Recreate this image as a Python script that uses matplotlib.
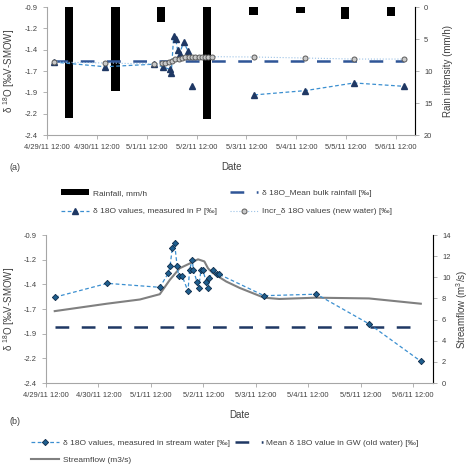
import numpy as np
import pandas as pd
import matplotlib
matplotlib.use("Agg")
import matplotlib.pyplot as plt

plt.rcParams['font.family'] = ['Liberation Sans', 'DejaVu Sans']
plt.rcParams['mathtext.fontset'] = 'custom'
plt.rcParams['mathtext.rm'] = 'Liberation Sans'
plt.rcParams['mathtext.it'] = 'Liberation Sans:italic'

# ---- panel (a): rainfall ----
rain_time = ['2011-04-29 22:30', '2011-04-30 21:00', '2011-05-01 19:00', '2011-05-02 17:00',
             '2011-05-03 15:20', '2011-05-04 14:00', '2011-05-05 11:30', '2011-05-06 09:30']
rain_mm = [17.4, 13.2, 2.3, 17.5, 1.25, 0.9, 1.8, 1.4]

p_time = ['2011-04-29 15:20', '2011-04-30 15:50', '2011-05-01 15:40', '2011-05-01 19:40',
          '2011-05-01 23:00', '2011-05-01 23:50', '2011-05-02 01:00', '2011-05-02 02:00',
          '2011-05-02 02:50', '2011-05-02 03:50', '2011-05-02 05:45', '2011-05-02 08:00',
          '2011-05-02 09:00', '2011-05-02 09:50', '2011-05-03 10:00',
          '2011-05-03 15:50', '2011-05-04 16:20', '2011-05-05 15:50', '2011-05-06 16:05']
p_d18o = [-1.545, -1.60, -1.57, -1.60, -1.63, -1.67, -1.24, -1.28, -1.40, -1.45, -1.31, -1.42,
          None, -1.83, None, -1.93, -1.88, -1.79, -1.83]

incr_time = ['2011-04-29 15:20', '2011-04-30 15:50', '2011-05-01 15:40',
             '2011-05-01 19:10', '2011-05-01 20:50', '2011-05-01 22:30', '2011-05-02 00:00',
             '2011-05-02 01:40', '2011-05-02 03:20', '2011-05-02 04:50', '2011-05-02 06:30',
             '2011-05-02 08:10', '2011-05-02 09:50', '2011-05-02 11:15', '2011-05-02 13:00',
             '2011-05-02 14:40', '2011-05-02 16:05', '2011-05-02 17:45', '2011-05-02 19:25',
             '2011-05-03 15:50', '2011-05-04 16:20', '2011-05-05 15:50', '2011-05-06 16:05']
incr_d18o = [-1.545, -1.556, -1.568,
             -1.56, -1.553, -1.545, -1.53, -1.513, -1.506, -1.494, -1.486,
             -1.482, -1.482, -1.482, -1.482, -1.482, -1.482, -1.482, -1.482,
             -1.486, -1.498, -1.51, -1.51]

mean_rain_time = ['2011-04-29 15:20', '2011-05-06 16:05']
mean_rain_d18o = [-1.53, -1.53]

# ---- panel (b): stream ----
stream_time = ['2011-04-29 16:05', '2011-04-30 16:05', '2011-05-01 16:05', '2011-05-01 19:55',
               '2011-05-01 20:50', '2011-05-01 21:50', '2011-05-01 22:50', '2011-05-02 00:00',
               '2011-05-02 00:45', '2011-05-02 02:25', '2011-05-02 05:00', '2011-05-02 05:45',
               '2011-05-02 07:00', '2011-05-02 07:25', '2011-05-02 09:10', '2011-05-02 09:50',
               '2011-05-02 11:00', '2011-05-02 11:45', '2011-05-02 13:25', '2011-05-02 14:10',
               '2011-05-02 14:50', '2011-05-02 16:20', '2011-05-02 18:15', '2011-05-02 19:25',
               '2011-05-03 15:50', '2011-05-04 15:50', '2011-05-05 15:50', '2011-05-06 15:35']
stream_d18o = [-1.53, -1.39, -1.43, -1.29, -1.21, -1.03, -0.98, -1.21, -1.32, -1.32, -1.47, -1.25,
               -1.15, -1.25, -1.38, -1.44, -1.25, -1.25, -1.38, -1.44, -1.34, -1.25, -1.30, -1.30,
               -1.515, -1.50, -1.80, -2.18]

flow_time = ['2011-04-29 16:00', '2011-04-30 15:50', '2011-05-01 07:00', '2011-05-01 16:05',
             '2011-05-01 20:40', '2011-05-02 01:10', '2011-05-02 05:45', '2011-05-02 09:35',
             '2011-05-02 12:30', '2011-05-02 14:10', '2011-05-02 16:20', '2011-05-02 22:30',
             '2011-05-03 04:35', '2011-05-03 15:50', '2011-05-03 22:50', '2011-05-04 15:35',
             '2011-05-05 15:50', '2011-05-06 15:35']
flow_m3s = [6.8, 7.5, 7.9, 8.4, 9.75, 10.85, 11.3, 11.7, 11.5, 10.85, 10.4, 9.6, 9.0,
            8.07, 7.95, 8.07, 8.0, 7.5]

gw_time = ['2011-04-29 16:05', '2011-05-06 15:35']
gw_d18o = [-1.83, -1.83]

x_ticks = ['2011-04-29 12:00', '2011-04-30 12:00', '2011-05-01 12:00', '2011-05-02 12:00',
           '2011-05-03 12:00', '2011-05-04 12:00', '2011-05-05 12:00', '2011-05-06 12:00']
x_labels = ['4/29/11 12:00', '4/30/11 12:00', '5/1/11 12:00', '5/2/11 12:00',
            '5/3/11 12:00', '5/4/11 12:00', '5/5/11 12:00', '5/6/11 12:00']
y_ticks = [-2.4, -2.15, -1.9, -1.65, -1.4, -1.15, -0.9]
y_labels = ['-2.4', '-2.2', '-1.9', '-1.7', '-1.4', '-1.2', '-0.9']

AXIS_COL = '#a6a6a6'
TXT_COL = '#404040'
NAVY = '#1f3864'
MID_BLUE = '#2f5597'
LIGHT_BLUE = '#3b8fd0'
X_LIM = (pd.Timestamp('2011-04-29 12:00'), pd.Timestamp('2011-05-06 21:10'))


def dt(values):
    return pd.to_datetime(values)


def nums(values):
    return np.array([np.nan if v is None else v for v in values], dtype=float)


def style_axes(ax, ax2, left_px, width_px, right_label_px):
    ax.spines['top'].set_visible(False)
    ax2.spines['top'].set_visible(False)
    for s in ['left', 'bottom']:
        ax.spines[s].set_color(AXIS_COL)
    ax2.spines['right'].set_color(AXIS_COL)
    ax2.spines['left'].set_visible(False)
    ax2.spines['bottom'].set_visible(False)
    ax.tick_params(colors=AXIS_COL, labelcolor=TXT_COL, labelsize=5.4, length=3, width=0.6)
    ax2.tick_params(colors=AXIS_COL, labelcolor=TXT_COL, labelsize=5.4, length=3, width=0.6)
    ax.set_xlim(*X_LIM)
    ax.set_xticks(dt(x_ticks))
    ax.set_xticklabels(x_labels)
    ax.set_ylim(-2.4, -0.9)
    ax.set_yticks(y_ticks)
    ax.set_yticklabels(y_labels)
    ax.set_ylabel('δ $^{18}$O [‰V-SMOW]', fontsize=7, color=TXT_COL)
    ax.yaxis.set_label_coords((17 - left_px) / width_px, 0.5)
    ax2.yaxis.set_label_coords((right_label_px - left_px) / width_px, 0.5)
    ax.set_xlabel('Date', fontsize=7, color=TXT_COL, labelpad=8)
    ax.set_zorder(ax2.get_zorder() + 1)
    ax.patch.set_visible(False)


fig = plt.figure(figsize=(4.71, 4.66), dpi=100)

# panel (a)
axa = fig.add_axes([47 / 471, 1 - 135 / 466, 368 / 471, 128 / 466])
axa2 = axa.twinx()
bars = axa2.bar(dt(rain_time), rain_mm, width=0.17, color='black', label='Rainfall, mm/h')
axa2.set_ylim(20, 0)
axa2.set_yticks([0, 5, 10, 15, 20])
axa2.set_ylabel('Rain intensity (mm/h)', fontsize=7, color=TXT_COL)

mean_line, = axa.plot(dt(mean_rain_time), mean_rain_d18o, color=MID_BLUE, lw=1.8,
                      ls=(0, (5.5, 5)), label='δ 18O_Mean bulk rainfall [‰]')
p_line, = axa.plot(dt(p_time), nums(p_d18o), color=LIGHT_BLUE, lw=0.9, ls=(0, (3, 2)),
                   marker='^', ms=4, mfc=NAVY, mec=NAVY, label='δ 18O values, measured in P [‰]')
incr_line, = axa.plot(dt(incr_time), incr_d18o, color='#9dc3e6', lw=0.8, ls=':',
                      marker='o', ms=3.6, mfc='#c9c9c9', mec='#5a5a5a', mew=0.7,
                      label='Incr_δ 18O values (new water) [‰]')
style_axes(axa, axa2, 47, 368, 443)
fig.text(10 / 471, 1 - 167 / 466, '(a)', fontsize=6.5, color=TXT_COL, va='center')

fig.legend(handles=[bars, p_line, mean_line, incr_line], ncol=2, frameon=False,
           loc='upper left', bbox_to_anchor=(61 / 471, 1 - 189 / 466), borderaxespad=0,
           borderpad=0, fontsize=6, handlelength=3.4, handletextpad=0.4,
           labelspacing=1.3, columnspacing=1.6, numpoints=1, labelcolor=TXT_COL)

# panel (b)
axb = fig.add_axes([46 / 471, 1 - 383 / 466, 387 / 471, 148 / 466])
axb2 = axb.twinx()
flow_line, = axb2.plot(dt(flow_time), flow_m3s, color='#808080', lw=1.5,
                       label='Streamflow (m3/s)')
axb2.set_ylim(0, 14)
axb2.set_yticks(range(0, 15, 2))
axb2.set_ylabel('Streamflow (m$^3$/s)', fontsize=7, color=TXT_COL)

gw_line, = axb.plot(dt(gw_time), gw_d18o, color=NAVY, lw=1.8, ls=(0, (5.5, 5)),
                    label='Mean δ 18O value in GW (old water) [‰]')
stream_line, = axb.plot(dt(stream_time), stream_d18o, color=LIGHT_BLUE, lw=0.9, ls=(0, (3, 2)),
                        marker='D', ms=3.2, mfc='#1f5f8f', mec='#0d2a48', mew=0.6,
                        label='δ 18O values, measured in stream water [‰]')
style_axes(axb, axb2, 46, 387, 454)
fig.text(10 / 471, 1 - 422 / 466, '(b)', fontsize=6.5, color=TXT_COL, va='center')

fig.legend(handles=[stream_line, flow_line, gw_line], ncol=2, frameon=False,
           loc='upper left', bbox_to_anchor=(31 / 471, 1 - 439 / 466), borderaxespad=0,
           borderpad=0, fontsize=6, handlelength=3.4, handletextpad=0.4,
           labelspacing=1.1, columnspacing=0.6, numpoints=1, labelcolor=TXT_COL)

fig.savefig('out.png', dpi=100)
